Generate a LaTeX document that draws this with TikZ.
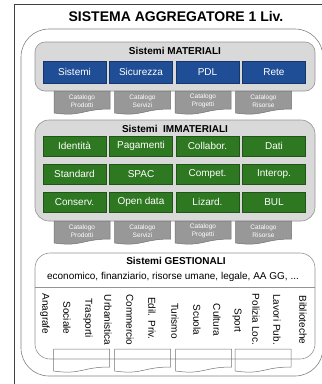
\documentclass[tikz,border=0pt]{standalone}
\usepackage{fontspec}
\setmainfont{Liberation Sans}
\usepackage{xcolor}

\definecolor{matblue}{RGB}{31,77,150}
\definecolor{immgreen}{RGB}{46,120,34}
\definecolor{panelgray}{RGB}{217,217,217}
\definecolor{docgray}{RGB}{152,152,152}

% forma documento (bordo inferiore ondulato)
\newcommand{\docshape}[2]{%
  \draw[#2, shift={(#1)}] (-28,-10) -- (28,-10) -- (28,8) .. controls (0,8) and (0,16) .. (-28,12) -- cycle;
}

\begin{document}
\begin{tikzpicture}[x=1pt, y=-1pt,
    panel/.style={rectangle, draw=gray!85, fill=panelgray, line width=0.6pt, rounded corners=10pt},
    ptitle/.style={font=\fontsize{10}{12}\selectfont\bfseries},
    matbox/.style={rectangle, draw=matblue!70!black, fill=matblue, text=white, minimum width=63pt, minimum height=22pt, inner sep=0pt, font=\fontsize{10}{12}\selectfont},
    immbox/.style={matbox, draw=immgreen!70!black, fill=immgreen, minimum height=20pt},
    catshape/.style={draw=gray!90!black, fill=docgray, line width=0.5pt},
    gestshape/.style={draw=gray!90!black, line width=0.5pt},
    cattext/.style={text=white, align=center, font=\fontsize{6.5}{7.5}\selectfont, inner sep=0pt},
    vlabel/.style={rotate=-90, font=\fontsize{10}{12}\selectfont, inner sep=0pt}
]
    \useasboundingbox (0,0) rectangle (322,384);
    \clip (0,0) rectangle (322,384);

    % cornice
    \draw[draw=black!75, line width=0.8pt] (14,4) rectangle (340,400);

    % titolo
    \node[font=\fontsize{14}{16}\selectfont\bfseries] (title) at (176,16) {SISTEMA AGGREGATORE 1 Liv.};

    % contenitore aggregatore
    \node[draw=gray, line width=0.6pt, rounded corners=28pt, minimum width=302pt, minimum height=347pt] (aggr) at (172,202.5) {};

    % Sistemi MATERIALI
    \node[panel, minimum width=280pt, minimum height=49pt] (mat) at (175,66.5) {};
    \node[ptitle] (mattitle) at (175,51) {Sistemi MATERIALI};
    \node[matbox] (sistemi) at (74.5,72) {Sistemi};
    \node[matbox] (sicurezza) at (141,72) {Sicurezza};
    \node[matbox] (pdl) at (207.5,72) {PDL};
    \node[matbox] (rete) at (274,72) {Rete};

    % cataloghi materiali
    \docshape{82,101}{catshape}
    \node[cattext] (catprod1) at (82,101) {Catalogo\\Prodotti};
    \docshape{142.5,101}{catshape}
    \node[cattext] (catserv1) at (142.5,101) {Catalogo\\Servizi};
    \docshape{203,101}{catshape}
    \node[cattext] (catprog1) at (203,101) {Catalogo\\Progetti};
    \docshape{263.5,101}{catshape}
    \node[cattext] (catris1) at (263.5,101) {Catalogo\\Risorse};

    % Sistemi IMMATERIALI
    \node[panel, rounded corners=14pt, minimum width=280pt, minimum height=101pt] (imm) at (175,170.5) {};
    \node[ptitle] (immtitle) at (175,129) {Sistemi\ \ IMMATERIALI};
    \node[immbox] (identita) at (74.5,146) {Identità};
    \node[immbox] (pagamenti) at (141,146) {Pagamenti};
    \node[immbox] (collabor) at (207.5,146) {Collabor.};
    \node[immbox] (dati) at (274,146) {Dati};
    \node[immbox] (standard) at (74.5,174) {Standard};
    \node[immbox] (spac) at (141,174) {SPAC};
    \node[immbox] (compet) at (207.5,174) {Compet.};
    \node[immbox] (interop) at (274,174) {Interop.};
    \node[immbox] (conserv) at (74.5,202) {Conserv.};
    \node[immbox] (opendata) at (141,202) {Open data};
    \node[immbox] (lizard) at (207.5,202) {Lizard.};
    \node[immbox] (bul) at (274,202) {BUL};

    % cataloghi immateriali
    \docshape{82,231}{catshape}
    \node[cattext] (catprod2) at (82,231) {Catalogo\\Prodotti};
    \docshape{142.5,231}{catshape}
    \node[cattext] (catserv2) at (142.5,231) {Catalogo\\Servizi};
    \docshape{203,231}{catshape}
    \node[cattext] (catprog2) at (203,231) {Catalogo\\Progetti};
    \docshape{263.5,231}{catshape}
    \node[cattext] (catris2) at (263.5,231) {Catalogo\\Risorse};

    % Sistemi GESTIONALI
    \node[panel, fill=white, rounded corners=15pt, minimum width=280pt, minimum height=106pt] (gest) at (175,306) {};
    \node[ptitle] (gesttitle) at (176,261) {Sistemi GESTIONALI};
    \node[font=\fontsize{10}{12}\selectfont] (trasv) at (173,277) {economico, finanziario, risorse umane, legale, AA GG, ...};
    \coordinate (sepl) at (35,287);
    \coordinate (sepr) at (315,287);
    \draw[draw=gray!85, line width=0.6pt] (sepl) -- (sepr);

    % settori verticali
    \node[vlabel] (anagrafe) at (45,314) {Anagrafe};
    \node[vlabel] (sociale) at (67,318) {Sociale};
    \node[vlabel] (trasporti) at (88,318) {Trasporti};
    \node[vlabel] (urbanistica) at (108,320) {Urbanistica};
    \node[vlabel] (commercio) at (130,320) {Commercio};
    \node[vlabel] (edilpriv) at (152,318.5) {Edil. Priv.};
    \node[vlabel] (turismo) at (175,321) {Turismo};
    \node[vlabel] (scuola) at (197,320) {Scuola};
    \node[vlabel] (cultura) at (217,320) {Cultura};
    \node[vlabel] (sport) at (237,320.5) {Sport};
    \node[vlabel] (polizia) at (256,319.5) {Polizia Loc.};
    \node[vlabel] (lavori) at (277,319.5) {Lavori Pub.};
    \node[vlabel] (biblioteche) at (303,320) {Biblioteche};

    % documenti gestionali
    \docshape{81.5,359}{gestshape}
    \docshape{142.5,359}{gestshape}
    \docshape{203.5,359}{gestshape}
    \docshape{263,359}{gestshape}
\end{tikzpicture}
\end{document}
